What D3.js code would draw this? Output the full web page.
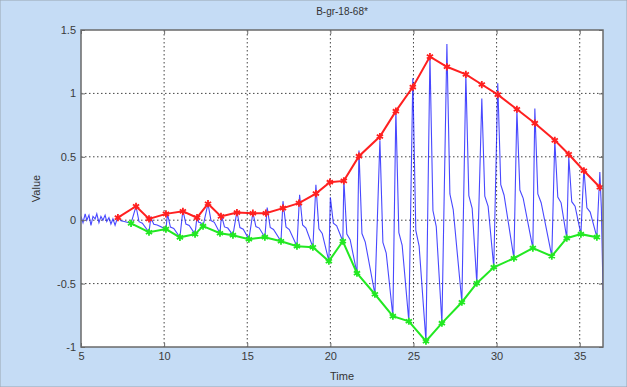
<!DOCTYPE html>
<html>
<head>
<meta charset="utf-8">
<script src="https://cdn.jsdelivr.net/npm/d3@7"></script>
<style>
  body { margin: 0; background: #c5dcf5; }
  svg { display: block; font-family: "Liberation Sans", Arial, sans-serif; }
</style>
</head>
<body>
<svg id="chart" width="627" height="387"></svg>
<script>
// envelope data
const redX = [7.22, 8.31, 9.09, 10.11, 11.13, 11.98, 12.64, 13.42, 14.38, 15.34, 16.12, 17.15, 18.11, 19.13, 19.97, 20.81, 21.72, 22.98, 23.94, 24.96, 25.99, 27.01, 28.15, 29.11, 30.07, 31.22, 32.30, 33.50, 34.34, 35.25, 36.21];
const redY = [0.02, 0.11, 0.01, 0.05, 0.07, 0.02, 0.13, 0.03, 0.06, 0.055, 0.055, 0.095, 0.135, 0.21, 0.30, 0.31, 0.505, 0.66, 0.86, 1.05, 1.29, 1.21, 1.15, 1.07, 0.99, 0.875, 0.765, 0.63, 0.52, 0.39, 0.26];
const greenX = [8.01, 9.09, 10.11, 10.95, 11.86, 12.34, 13.36, 14.14, 15.10, 16.06, 17.03, 17.99, 18.95, 19.91, 20.75, 21.60, 22.68, 23.76, 24.72, 25.75, 26.71, 27.91, 28.81, 29.83, 31.04, 32.18, 33.32, 34.22, 35.07, 36.03];
const greenY = [-0.025, -0.095, -0.07, -0.135, -0.11, -0.047, -0.103, -0.118, -0.15, -0.134, -0.166, -0.205, -0.213, -0.323, -0.166, -0.418, -0.584, -0.757, -0.797, -0.954, -0.812, -0.647, -0.497, -0.371, -0.30, -0.22, -0.284, -0.142, -0.11, -0.134];

// blue signal: noisy start, then per cycle peak -> notch -> shoulder -> trough
const noiseX = [5.0, 5.12, 5.25, 5.35, 5.48, 5.6, 5.72, 5.85, 5.95, 6.08, 6.2, 6.32, 6.45, 6.55, 6.68, 6.8, 6.92, 7.05, 7.15];
const noiseY = [0.03, -0.02, 0.05, 0.0, 0.04, -0.04, 0.03, 0.01, 0.05, -0.02, 0.03, 0.0, 0.04, -0.01, 0.02, -0.03, 0.01, -0.04, 0.0];
const peakX = [7.22, 8.31, 9.20, 10.20, 11.13, 11.98, 12.64, 13.45, 14.38, 15.34, 16.20, 17.15, 18.15, 19.13, 20.00, 20.81, 21.72, 22.98, 23.94, 24.96, 25.99, 27.01, 28.15, 29.11, 30.07, 31.22, 32.30, 33.50, 34.34, 35.25, 36.21];
const peakY = [0.03, 0.11, 0.02, 0.05, 0.08, 0.03, 0.13, 0.04, 0.07, 0.06, 0.10, 0.15, 0.20, 0.28, 0.18, 0.32, 0.55, 0.63, 0.87, 1.12, 1.30, 1.39, 1.15, 0.96, 1.08, 0.87, 0.88, 0.63, 0.50, 0.41, 0.38];
const notchX = [7.40, 8.49, 9.38, 10.38, 11.31, 12.08, 12.82, 13.63, 14.56, 15.52, 16.38, 17.33, 18.33, 19.31, 20.18, 20.99, 21.90, 23.16, 24.12, 25.14, 26.17, 27.19, 28.33, 29.29, 30.25, 31.40, 32.48, 33.68, 34.52, 35.43, 36.30];
const notchY = [-0.005, -0.012, -0.032, -0.054, -0.03, -0.016, -0.003, -0.053, -0.058, -0.05, -0.057, -0.053, -0.038, -0.068, -0.023, -0.109, -0.105, -0.176, -0.099, -0.08, 0.076, 0.207, 0.193, 0.189, 0.28, 0.238, 0.207, 0.183, 0.146, 0.097, 0.10];
const shoulderX = [7.60, 8.69, 9.58, 10.58, 11.51, 12.20, 13.02, 13.83, 14.76, 15.72, 16.58, 17.53, 18.53, 19.51, 20.38, 21.19, 22.10, 23.36, 24.32, 25.34, 26.37, 27.39, 28.53, 29.49, 30.45, 31.60, 32.68, 33.88, 34.72, 35.63, 36.40];
const shoulderY = [-0.01, -0.024, -0.038, -0.065, -0.042, -0.02, -0.017, -0.062, -0.071, -0.062, -0.073, -0.074, -0.062, -0.104, -0.044, -0.154, -0.173, -0.26, -0.199, -0.205, -0.05, 0.084, 0.094, 0.109, 0.197, 0.172, 0.138, 0.137, 0.11, 0.064, -0.55];

const xTicks = [5, 10, 15, 20, 25, 30, 35];
const yTicks = [-1, -0.5, 0, 0.5, 1, 1.5];
const yTickLabels = ["-1", "-0.5", "0", "0.5", "1", "1.5"];

const W = 627, H = 387;
const margin = { top: 30, right: 24, bottom: 40, left: 81 };

const svg = d3.select("#chart");
svg.append("rect").attr("width", W).attr("height", H)
  .attr("fill", "#c5dcf5").attr("stroke", "#9aa6b2").attr("stroke-width", 1);

const x = d3.scaleLinear().domain([5, 36.4]).range([margin.left, W - margin.right]);
const y = d3.scaleLinear().domain([-1, 1.5]).range([H - margin.bottom, margin.top]);

// plot area
svg.append("rect")
  .attr("x", x(5)).attr("y", y(1.5))
  .attr("width", x(36.4) - x(5)).attr("height", y(-1) - y(1.5))
  .attr("fill", "#fff");

// dotted grid
const grid = svg.append("g").attr("stroke", "#444").attr("stroke-dasharray", "1.5,2.5").attr("stroke-width", 1);
grid.selectAll(".gx").data(xTicks.slice(1)).join("line")
  .attr("x1", d => x(d)).attr("x2", d => x(d))
  .attr("y1", y(1.5)).attr("y2", y(-1));
grid.selectAll(".gy").data(yTicks.slice(1, -1)).join("line")
  .attr("x1", x(5)).attr("x2", x(36.4))
  .attr("y1", d => y(d)).attr("y2", d => y(d));

// blue signal assembled from the vertex lists
const blue = noiseX.map((t, i) => [t, noiseY[i]]);
peakX.forEach((t, i) => {
  blue.push([t, peakY[i]], [notchX[i], notchY[i]], [shoulderX[i], shoulderY[i]]);
  if (i < greenX.length) blue.push([greenX[i], greenY[i]]);
});

const line = d3.line().x(d => x(d[0])).y(d => y(d[1]));

svg.append("clipPath").attr("id", "clip").append("rect")
  .attr("x", x(5)).attr("y", y(1.5))
  .attr("width", x(36.4) - x(5)).attr("height", y(-1) - y(1.5));

const plot = svg.append("g").attr("clip-path", "url(#clip)");

plot.append("path").datum(blue)
  .attr("d", line).attr("fill", "none")
  .attr("stroke", "#1a1aff").attr("stroke-width", 1.1).attr("stroke-opacity", 0.8);

const red = redX.map((t, i) => [t, redY[i]]);
const green = greenX.map((t, i) => [t, greenY[i]]);

function envelope(data, color) {
  plot.append("path").datum(data)
    .attr("d", line).attr("fill", "none")
    .attr("stroke", color).attr("stroke-width", 2);
  const star = d3.symbol(d3.symbolAsterisk, 36);
  plot.selectAll(null).data(data).join("path")
    .attr("transform", d => `translate(${x(d[0])},${y(d[1])})`)
    .attr("d", star).attr("fill", "none")
    .attr("stroke", color).attr("stroke-width", 1.8);
}
envelope(red, "#ff2020");
envelope(green, "#22e822");

// axes, MATLAB style with inward ticks on all four sides
const axisColor = "#6a6a6a";
const styleAxis = g => {
  g.select(".domain").remove();
  g.selectAll(".tick line").attr("stroke", axisColor);
  g.selectAll("text").attr("fill", "#3a3a3a").attr("font-size", 11);
};

svg.append("g").attr("transform", `translate(0,${y(-1)})`)
  .call(d3.axisBottom(x).tickValues(xTicks).tickSize(-4).tickPadding(5))
  .call(styleAxis);
svg.append("g").attr("transform", `translate(${x(5)},0)`)
  .call(d3.axisLeft(y).tickValues(yTicks).tickSize(-4).tickPadding(5)
    .tickFormat((d, i) => yTickLabels[i]))
  .call(styleAxis);
svg.append("g").attr("transform", `translate(0,${y(1.5)})`)
  .call(d3.axisTop(x).tickValues(xTicks).tickSize(-4).tickFormat(""))
  .call(styleAxis);
svg.append("g").attr("transform", `translate(${x(36.4)},0)`)
  .call(d3.axisRight(y).tickValues(yTicks).tickSize(-4).tickFormat(""))
  .call(styleAxis);

svg.append("rect")
  .attr("x", x(5)).attr("y", y(1.5))
  .attr("width", x(36.4) - x(5)).attr("height", y(-1) - y(1.5))
  .attr("fill", "none").attr("stroke", axisColor).attr("stroke-width", 1.5);

// labels
svg.append("text").attr("x", (x(5) + x(36.4)) / 2).attr("y", 15)
  .attr("text-anchor", "middle").attr("font-size", 10).attr("fill", "#333")
  .text("B-gr-18-68*");
svg.append("text").attr("x", (x(5) + x(36.4)) / 2).attr("y", 380)
  .attr("text-anchor", "middle").attr("font-size", 11).attr("fill", "#333")
  .text("Time");
svg.append("text")
  .attr("transform", `translate(40,${(y(1.5) + y(-1)) / 2}) rotate(-90)`)
  .attr("text-anchor", "middle").attr("font-size", 11).attr("fill", "#333")
  .text("Value");
</script>
</body>
</html>
